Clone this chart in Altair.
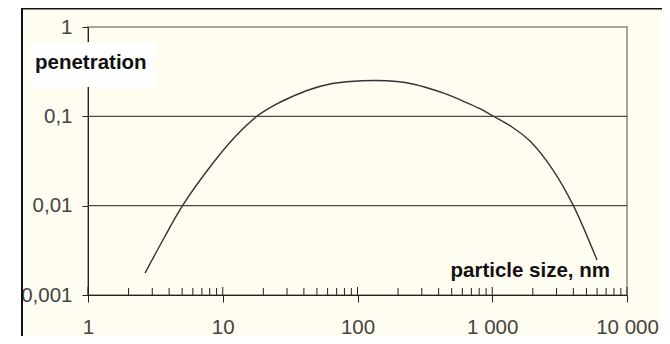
import altair as alt
import pandas as pd

# ---- data ----
size_nm = [2.65, 3.60, 5.07, 8.47, 12.3, 17.65, 24.4, 31.6, 44.4, 62.5, 88.0, 135, 196, 258,
           345, 462, 607, 811, 1013, 1402, 1906, 2824, 3975, 5990]
penetration = [0.00176, 0.00413, 0.0102, 0.0300, 0.0587, 0.0983, 0.134, 0.1625, 0.1996, 0.230,
               0.2454, 0.2519, 0.2454, 0.230, 0.2038, 0.1764, 0.1484, 0.1217, 0.1009, 0.0760,
               0.0529, 0.02506, 0.0102, 0.00246]

x_major = [1, 10, 100, 1000, 10000]
x_major_labels = ["1", "10", "100", "1 000", "10 000"]
x_minor = [2, 3, 4, 5, 6, 7, 8, 9,
           20, 30, 40, 50, 60, 70, 80, 90,
           200, 300, 400, 500, 600, 700, 800, 900,
           2000, 3000, 4000, 5000, 6000, 7000, 8000, 9000]
y_major = [1, 0.1, 0.01, 0.001]
y_major_labels = ["1", "0,1", "0,01", "0,001"]
y_grid = [0.1, 0.01]

W, H = 539, 268
CREAM = "#fffdf1"
FONT = "Liberation Sans"

def label_expr(values, labels):
    parts = [f"datum.value == {v} ? '{l}'" for v, l in zip(values, labels)]
    return " : ".join(parts) + " : ''"

xscale = alt.Scale(type="log", domain=[1, 10000], nice=False)
yscale = alt.Scale(type="log", domain=[0.001, 1], nice=False)
xaxis = alt.Axis(values=x_major, labelExpr=label_expr(x_major, x_major_labels), title=None,
                 grid=False, tickSize=7, labelPadding=15, domainColor="#222", tickColor="#222",
                 labelColor="#444", labelFontSize=20.5, labelFont=FONT, labelFlush=False)
yaxis = alt.Axis(values=y_major, labelExpr=label_expr(y_major, y_major_labels), title=None,
                 grid=False, tickSize=6, labelPadding=10, domainColor="#222", tickColor="#222",
                 labelColor="#444", labelFontSize=20.5, labelFont=FONT, labelFlush=False)

curve_df = pd.DataFrame({"size": size_nm, "pen": penetration})
one = alt.Data(values=[{}])

# decorations: white left strip, outer black frame lines
strip = alt.Chart(one).mark_rect(color="white").encode(
    x=alt.value(-80), x2=alt.value(-67), y=alt.value(-19), y2=alt.value(H + 41))
frame_v = alt.Chart(one).mark_rule(color="#111", strokeWidth=2).encode(
    x=alt.value(-66), y=alt.value(-19), y2=alt.value(H + 41))
frame_h = alt.Chart(one).mark_rule(color="#111", strokeWidth=2).encode(
    x=alt.value(-66), x2=alt.value(W + 35), y=alt.value(-18.5))

grid = alt.Chart(pd.DataFrame({"g": y_grid})).mark_rule(color="#4a4a44", strokeWidth=1.3).encode(
    y=alt.Y("g:Q", scale=yscale, axis=yaxis))

curve = alt.Chart(curve_df).mark_line(color="#333", strokeWidth=1.4, interpolate="catmull-rom").encode(
    x=alt.X("size:Q", scale=xscale, axis=xaxis),
    y=alt.Y("pen:Q", scale=yscale, axis=yaxis))

major_up = alt.Chart(pd.DataFrame({"t": x_major})).mark_rule(color="#222").encode(
    x=alt.X("t:Q", scale=xscale, axis=xaxis), y=alt.value(H), y2=alt.value(H - 8))
minor_up = alt.Chart(pd.DataFrame({"t": x_minor})).mark_rule(color="#222").encode(
    x=alt.X("t:Q", scale=xscale, axis=xaxis), y=alt.value(H), y2=alt.value(H - 7))

pen_box = alt.Chart(one).mark_rect(color="white").encode(
    x=alt.value(-58), x2=alt.value(67), y=alt.value(15), y2=alt.value(60))
pen_text = alt.Chart(one).mark_text(align="left", baseline="alphabetic", fontSize=20.5,
                                    fontWeight="bold", font=FONT, color="#111").encode(
    x=alt.value(-53), y=alt.value(42), text=alt.value("penetration"))
size_text = alt.Chart(one).mark_text(align="right", baseline="alphabetic", fontSize=20.5,
                                     fontWeight="bold", font=FONT, color="#111").encode(
    x=alt.value(522), y=alt.value(250), text=alt.value("particle size, nm"))

chart = alt.layer(strip, frame_v, frame_h, grid, curve, major_up, minor_up,
                  pen_box, pen_text, size_text).properties(
    width=W, height=H,
    autosize=alt.AutoSizeParams(type="none"),
    padding={"left": 80, "top": 19, "right": 35, "bottom": 41},
).configure(background=CREAM).configure_view(
    stroke="#a8a598", strokeWidth=2, fill=CREAM)

chart.save("out.html", embed_options={"renderer": "svg", "actions": False})
